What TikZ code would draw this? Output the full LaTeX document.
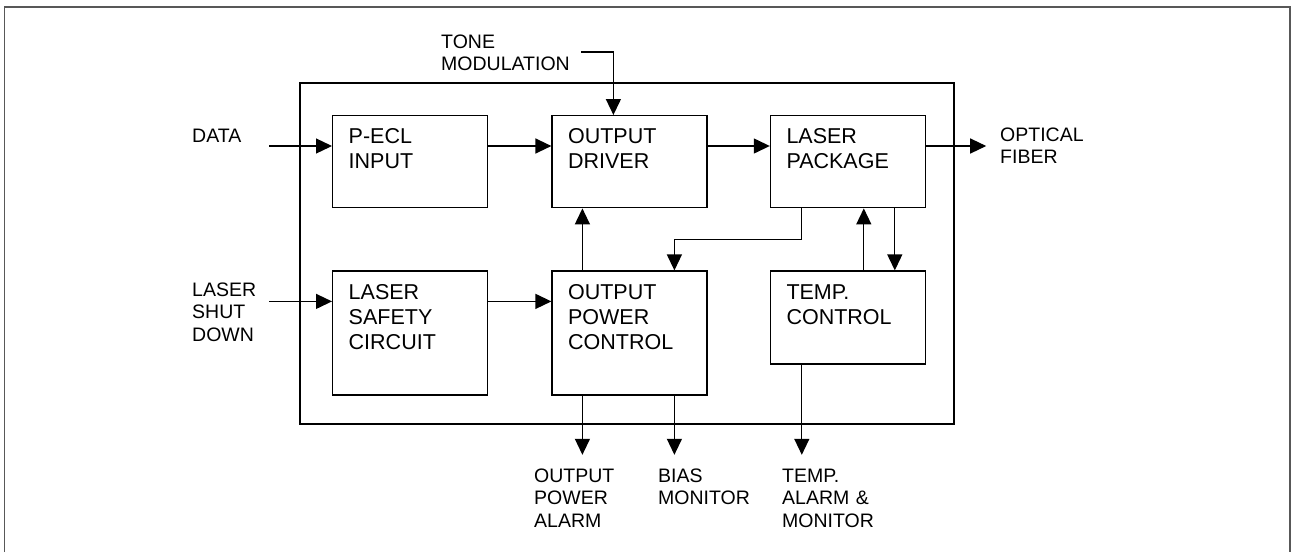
\documentclass[tikz,border=0pt]{standalone}
\usepackage{fontspec}
\setmainfont{Liberation Sans}
\usetikzlibrary{positioning,arrows.meta}
\definecolor{frameGray}{RGB}{88,88,88}

\begin{document}
\begin{tikzpicture}[x=1pt,y=-1pt,
  blk/.style={draw,line width=1.4pt,font=\fontsize{21.5}{25}\selectfont,align=left,text width=123pt,inner xsep=16pt,inner ysep=13pt,text height=15pt},
  sig/.style={font=\fontsize{19.5}{22.5}\selectfont,align=left,text width=150pt,inner xsep=0pt,inner ysep=15pt,text height=14pt,anchor=north west},
  arr/.style={line width=1.3pt,-{Triangle[length=16pt,width=15pt]}}]
\useasboundingbox (0,0) rectangle (1292,552);
\draw[frameGray,line width=1.6pt] (4.5,552) -- (4.5,7) -- (1290,7) -- (1290,552);
% module housing
\draw[line width=1.8pt] (300,83) rectangle (954,424);

% blocks
\node[blk,anchor=north west,text depth=51pt] (pecl) at (332,115) {P-ECL\\INPUT};
\node[blk,right=63pt of pecl,text depth=51pt] (driver) {OUTPUT\\DRIVER};
\node[blk,right=62pt of driver,text depth=51pt] (laser) {LASER\\PACKAGE};
\node[blk,below=62pt of pecl,text depth=83pt] (safety) {LASER\\SAFETY\\CIRCUIT};
\node[blk,below=62pt of driver,text depth=83pt] (opc) {OUTPUT\\POWER\\CONTROL};
\node[blk,below=62pt of laser,text depth=52pt] (temp) {TEMP.\\CONTROL};

% signal names
\node[sig] (data) at (192,113) {DATA};
\node[sig] (shutdown) at (192,267) {LASER\\SHUT\\DOWN};
\node[sig] (fiber) at (1000,112) {OPTICAL\\FIBER};
\node[sig] (tone) at (441,19) {TONE\\MODULATION};
\node[sig] (pwralarm) at (534,453) {OUTPUT\\POWER\\ALARM};
\node[sig] (biasmon) at (658,453) {BIAS\\MONITOR};
\node[sig] (tempalarm) at (782,453) {TEMP.\\ALARM \&\\MONITOR};

% free ends
\path ([yshift=-31pt]pecl.north west) ++(-63,0) coordinate (dataIn);
\path ([yshift=-31pt]safety.north west) ++(-63,0) coordinate (shutIn);
\path ([yshift=-31pt]laser.north east) ++(60,0) coordinate (fiberOut);
\path ([xshift=62pt]driver.north west) ++(-32,-63) coordinate (toneIn);
\path ([xshift=31pt]opc.south west) ++(0,59) coordinate (alarmOut);
\path ([xshift=123pt]opc.south west) ++(0,59) coordinate (biasOut);
\path ([xshift=32pt]temp.south west) ++(0,90) coordinate (tempOut);

% connections
\draw[arr] (dataIn) -- ([yshift=-31pt]pecl.north west);
\draw[arr] ([yshift=-31pt]pecl.north east) -- ([yshift=-31pt]driver.north west);
\draw[arr] ([yshift=-31pt]driver.north east) -- ([yshift=-31pt]laser.north west);
\draw[arr] ([yshift=-31pt]laser.north east) -- (fiberOut);
\draw[arr] (toneIn) -| ([xshift=62pt]driver.north west);
\draw[arr] (shutIn) -- ([yshift=-31pt]safety.north west);
\draw[arr] ([yshift=-31pt]safety.north east) -- ([yshift=-31pt]opc.north west);
\draw[arr] ([xshift=31pt]opc.north west) -- ([xshift=31pt]driver.south west);
\draw[arr] ([xshift=32pt]laser.south west) -- ++(0,31) -| ([xshift=123pt]opc.north west);
\draw[arr] ([xshift=94pt]temp.north west) -- ([xshift=94pt]laser.south west);
\draw[arr] ([xshift=125pt]laser.south west) -- ([xshift=125pt]temp.north west);
\draw[arr] ([xshift=31pt]opc.south west) -- (alarmOut);
\draw[arr] ([xshift=123pt]opc.south west) -- (biasOut);
\draw[arr] ([xshift=32pt]temp.south west) -- (tempOut);
\end{tikzpicture}
\end{document}
